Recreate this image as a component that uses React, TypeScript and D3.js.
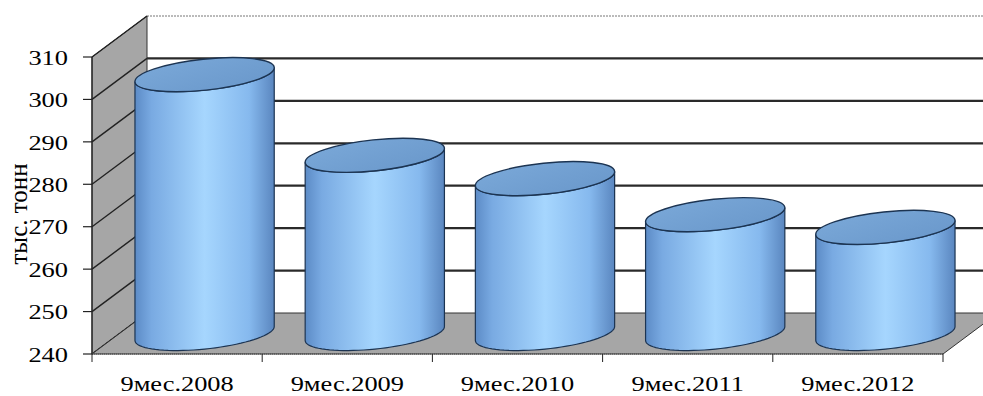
import React from 'react';
import * as d3 from 'd3';

// Data
const categories = ['9мес.2008', '9мес.2009', '9мес.2010', '9мес.2011', '9мес.2012'];
const values = [301, 282, 276.5, 268, 265];
const yTicks = [240, 250, 260, 270, 280, 290, 300, 310];
const yTitle = 'тыс. тонн';

const W = 983;
const H = 396;
const FONT = "'Liberation Serif', 'Times New Roman', Times, serif";

// Front plane of the 3D box and the depth offset to its back plane
const front = { left: 92, right: 943, top: 57, bottom: 354 };
const depth = { dx: 55, dy: -41 };

const x = d3.scaleBand<string>().domain(categories).range([front.left, front.right]);
const y = d3.scaleLinear().domain([240, 310]).range([front.bottom, front.top]);

// Cylinder geometry
const RX = 70;
const RY = 15.5;
const ROT = (-6 * Math.PI) / 180;

function ellipsePoint(cx: number, cy: number, t: number): [number, number] {
  const c = Math.cos(ROT);
  const s = Math.sin(ROT);
  return [
    cx + RX * Math.cos(t) * c - RY * Math.sin(t) * s,
    cy + RX * Math.cos(t) * s + RY * Math.sin(t) * c,
  ];
}

function arc(cx: number, cy: number, t1: number, t2: number, n = 40): [number, number][] {
  const pts: [number, number][] = [];
  for (let i = 0; i <= n; i++) pts.push(ellipsePoint(cx, cy, t1 + ((t2 - t1) * i) / n));
  return pts;
}

const line = d3.line();

function cylinderBody(cx: number, topY: number, botY: number): string {
  const t0 = Math.atan((-RY * Math.tan(ROT)) / RX);
  const pts: [number, number][] = [
    ...arc(cx, botY, t0, t0 + Math.PI),
    ...arc(cx, topY, t0 + Math.PI, t0),
  ];
  return (line(pts) || '') + 'Z';
}

function StretchText(props: {
  x: number;
  y: number;
  anchor: string;
  size: number;
  children: React.ReactNode;
}) {
  const { x: tx, y: ty, anchor, size, children } = props;
  return (
    <text
      transform={`translate(${tx},${ty}) scale(1.2,1)`}
      textAnchor={anchor}
      dominantBaseline="central"
      style={{ fontFamily: FONT, fontSize: size, fontWeight: 400 }}
      fill="#000"
    >
      {children}
    </text>
  );
}

export default function App() {
  const bw = x.bandwidth();
  const backLeft = front.left + depth.dx;
  const backTop = front.top + depth.dy;
  const backBottom = front.bottom + depth.dy;
  const floorRight = front.right + depth.dx;

  return (
    <svg
      width={W}
      height={H}
      style={{ position: 'absolute', left: 0, top: 0, background: '#fff' }}
    >
      <defs>
        <linearGradient id="cylBody" x1="0" x2="1" y1="0" y2="0">
          <stop offset="0" stopColor="#5c8bc6" />
          <stop offset="0.12" stopColor="#79aae2" />
          <stop offset="0.5" stopColor="#a6d6fe" />
          <stop offset="0.82" stopColor="#86b9ee" />
          <stop offset="1" stopColor="#5a86bf" />
        </linearGradient>
        <linearGradient id="cylTop" x1="0" x2="1" y1="0" y2="1">
          <stop offset="0" stopColor="#7aa8d8" />
          <stop offset="1" stopColor="#6a98cb" />
        </linearGradient>
      </defs>

      {/* back wall */}
      <rect x={backLeft} y={backTop} width={W - backLeft} height={backBottom - backTop} fill="#fff" />
      <line
        x1={backLeft}
        x2={W}
        y1={backTop}
        y2={backTop}
        stroke="#777"
        strokeWidth={1}
        strokeDasharray="2,1"
      />
      {yTicks
        .filter((v) => v > 240 && v < 310)
        .map((v) => (
          <line
            key={`g${v}`}
            x1={backLeft}
            x2={W}
            y1={y(v) + depth.dy}
            y2={y(v) + depth.dy}
            stroke="#2a2a2a"
            strokeWidth={2.2}
          />
        ))}

      {/* left side wall */}
      <polygon
        points={`${front.left},${front.top} ${backLeft},${backTop} ${backLeft},${backBottom} ${front.left},${front.bottom}`}
        fill="#a6a6a6"
        stroke="#333"
        strokeWidth={1}
      />
      {yTicks.map((v) => (
        <line
          key={`w${v}`}
          x1={front.left}
          y1={y(v)}
          x2={backLeft}
          y2={y(v) + depth.dy}
          stroke="#222"
          strokeWidth={1.4}
        />
      ))}

      {/* floor */}
      <polygon
        points={`${front.left},${front.bottom} ${backLeft},${backBottom} ${floorRight},${backBottom} ${front.right},${front.bottom}`}
        fill="#a6a6a6"
        stroke="#333"
        strokeWidth={1}
      />

      {/* cylinders */}
      {categories.map((c, i) => {
        const cx = (x(c) as number) + bw / 2 + depth.dx / 2;
        const topY = y(values[i]) + depth.dy / 2;
        const botY = y(240) + depth.dy / 2;
        return (
          <g key={c}>
            <path
              d={cylinderBody(cx, topY, botY)}
              fill="url(#cylBody)"
              stroke="#1c3452"
              strokeWidth={1.2}
            />
            <ellipse
              cx={cx}
              cy={topY}
              rx={RX}
              ry={RY}
              transform={`rotate(-6 ${cx} ${topY})`}
              fill="url(#cylTop)"
              stroke="#1c3452"
              strokeWidth={1.4}
            />
          </g>
        );
      })}

      {/* axes */}
      <line x1={front.left} x2={front.left} y1={front.top} y2={front.bottom} stroke="#222" strokeWidth={1.2} />
      {yTicks.map((v) => (
        <line key={`t${v}`} x1={front.left - 9} x2={front.left} y1={y(v)} y2={y(v)} stroke="#222" strokeWidth={1.2} />
      ))}
      <line
        x1={front.left}
        x2={front.right}
        y1={front.bottom}
        y2={front.bottom}
        stroke="#444"
        strokeWidth={1}
        strokeDasharray="1,1"
      />
      {[...categories.map((c) => x(c) as number), front.right].map((px, i) => (
        <line key={`xt${i}`} x1={px} x2={px} y1={front.bottom} y2={front.bottom + 8} stroke="#222" strokeWidth={1} />
      ))}

      {/* tick labels */}
      {yTicks.map((v) => (
        <StretchText key={`l${v}`} x={68} y={y(v)} anchor="end" size={22}>
          {v}
        </StretchText>
      ))}
      {categories.map((c) => (
        <StretchText key={`xl${c}`} x={(x(c) as number) + bw / 2} y={383} anchor="middle" size={22}>
          {c}
        </StretchText>
      ))}

      {/* axis title */}
      <text
        transform="translate(18,214) rotate(-90)"
        textAnchor="middle"
        dominantBaseline="central"
        style={{ fontFamily: FONT, fontSize: 25 }}
        fill="#000"
      >
        {yTitle}
      </text>
    </svg>
  );
}
